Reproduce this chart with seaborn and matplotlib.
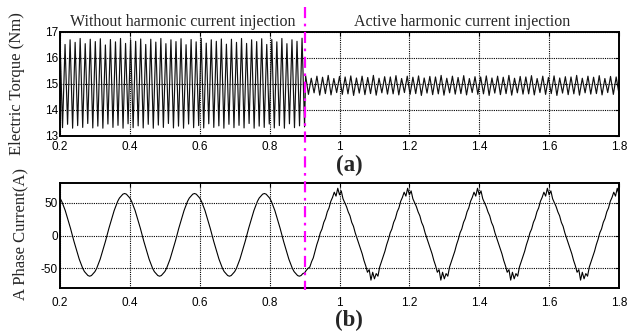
import numpy as np
import matplotlib
matplotlib.use("Agg")
import matplotlib.pyplot as plt
import seaborn as sns
from matplotlib.lines import Line2D

sns.set_theme(style="white")
plt.rcParams['font.family'] = ['Liberation Sans', 'DejaVu Sans']

# ---------------- data ----------------
x_ticks = [0.2, 0.4, 0.6, 0.8, 1.0, 1.2, 1.4, 1.6, 1.8]
x_tick_labels = ['0.2', '0.4', '0.6', '0.8', '1', '1.2', '1.4', '1.6', '1.8']
torque_ticks = [13, 14, 15, 16, 17]
current_ticks = [-50, 0, 50]
switch_time = 0.9
t_start, t_end = 0.2, 1.8

# electric torque: peaks / troughs of each ripple cycle
torque_left_peaks = [
    16.74, 16.52, 16.70, 16.60, 16.75, 16.55, 16.72, 16.63, 16.74, 16.50,
    16.71, 16.62, 16.75, 16.56, 16.70, 16.64, 16.73, 16.52, 16.72, 16.61,
    16.75, 16.55, 16.70, 16.63, 16.74, 16.51, 16.71, 16.62, 16.75, 16.57,
    16.70, 16.64, 16.73, 16.53, 16.72, 16.60, 16.75, 16.56, 16.70, 16.63,
    16.74, 16.52, 16.71, 16.62, 16.75, 16.55, 16.70, 16.64, 16.76]
torque_left_troughs = [
    13.32, 13.45, 13.30, 13.40, 13.33, 13.48, 13.31, 13.38, 13.30, 13.46,
    13.33, 13.41, 13.30, 13.47, 13.32, 13.39, 13.31, 13.45, 13.30, 13.42,
    13.33, 13.48, 13.31, 13.38, 13.30, 13.46, 13.32, 13.40, 13.31, 13.47,
    13.33, 13.39, 13.30, 13.45, 13.32, 13.41, 13.31, 13.48, 13.30, 13.38,
    13.33, 13.46, 13.31, 13.40, 13.30, 13.47, 13.32, 13.39, 13.35]
torque_right_peaks = [
    15.32, 15.22, 15.30, 15.26, 15.33, 15.21, 15.29, 15.27, 15.31, 15.23,
    15.30, 15.25, 15.33, 15.22, 15.28, 15.27, 15.32, 15.21, 15.30, 15.26,
    15.31, 15.23, 15.29, 15.27, 15.33, 15.22, 15.30, 15.25, 15.32, 15.21,
    15.28, 15.27, 15.31, 15.23, 15.30, 15.26, 15.33, 15.22, 15.29, 15.27,
    15.32, 15.21, 15.30, 15.25, 15.31, 15.23, 15.28, 15.27, 15.33, 15.22,
    15.30, 15.26, 15.32, 15.21, 15.29, 15.27]
torque_right_troughs = [
    14.60, 14.66, 14.57, 14.63, 14.58, 14.67, 14.60, 14.62, 14.56, 14.65,
    14.59, 14.63, 14.57, 14.66, 14.61, 14.62, 14.58, 14.67, 14.60, 14.63,
    14.56, 14.65, 14.59, 14.62, 14.57, 14.66, 14.61, 14.63, 14.58, 14.67,
    14.60, 14.62, 14.56, 14.65, 14.59, 14.63, 14.57, 14.66, 14.61, 14.62,
    14.58, 14.67, 14.60, 14.63, 14.56, 14.65, 14.59, 14.62, 14.57, 14.66,
    14.61, 14.63, 14.58, 14.67, 14.60, 14.62]

# phase A current, sampled every 5 ms
current_left = [
    57, 52, 45, 38, 29, 20, 11, 1, -9, -18, -27, -36, -43, -50, -55, -58, -61, -62, -61, -58,
    -55, -50, -43, -36, -27, -18, -9, 1, 11, 20, 29, 38, 45, 52, 57, 60, 63, 64, 63, 60,
    57, 52, 45, 38, 29, 20, 11, 1, -9, -18, -27, -36, -43, -50, -55, -58, -61, -62, -61, -58,
    -55, -50, -43, -36, -27, -18, -9, 1, 11, 20, 29, 38, 45, 52, 57, 60, 63, 64, 63, 60,
    57, 52, 45, 38, 29, 20, 11, 1, -9, -18, -27, -36, -43, -50, -55, -58, -61, -62, -61, -58,
    -55, -50, -43, -36, -27, -18, -9, 1, 11, 20, 29, 38, 45, 52, 57, 60, 63, 64, 63, 60,
    57, 52, 45, 38, 29, 20, 11, 1, -9, -18, -27, -36, -43, -50, -55, -58, -61, -62, -61, -58]
current_right = [
    -57, -53, -50, -48, -40, -34, -24, -14, -6, 4,
    10, 20, 26, 36, 42, 52, 58, 66, 60, 72,
    62, 68, 56, 50, 44, 36, 30, 20, 14, 4,
    -4, -12, -20, -28, -38, -46, -56, -52, -68, -56,
    -66, -58, -62, -48, -40, -32, -24, -14, -6, 4,
    10, 20, 26, 36, 42, 52, 58, 66, 60, 72,
    62, 68, 56, 50, 44, 36, 30, 20, 14, 4,
    -4, -12, -20, -28, -38, -46, -56, -52, -68, -56,
    -66, -58, -62, -48, -40, -32, -24, -14, -6, 4,
    10, 20, 26, 36, 42, 52, 58, 66, 60, 72,
    62, 68, 56, 50, 44, 36, 30, 20, 14, 4,
    -4, -12, -20, -28, -38, -46, -56, -52, -68, -56,
    -66, -58, -62, -48, -40, -32, -24, -14, -6, 4,
    10, 20, 26, 36, 42, 52, 58, 66, 60, 72,
    62, 68, 56, 50, 44, 36, 30, 20, 14, 4,
    -4, -12, -20, -28, -38, -46, -56, -52, -68, -56,
    -66, -58, -62, -48, -40, -32, -24, -14, -6, 4,
    10, 20, 26, 36, 42, 52, 58, 66, 60, 72, 62]

titles = ['Without harmonic current injection', 'Active harmonic current injection']

# ---------------- build series ----------------
torque_left = [v for p in zip(torque_left_peaks, torque_left_troughs) for v in p]
torque_right = [v for p in zip(torque_right_peaks, torque_right_troughs) for v in p]
t_tl = np.linspace(t_start, switch_time, len(torque_left))
t_tr = np.linspace(switch_time + 0.003, t_end, len(torque_right))
torque_t = np.concatenate([t_tl, t_tr])
torque_v = np.array(torque_left + torque_right)

t_cl = np.linspace(t_start, switch_time - 0.005, len(current_left))
t_cr = np.linspace(switch_time, t_end, len(current_right))
current_t = np.concatenate([t_cl, t_cr])
current_v = np.array(current_left + current_right, dtype=float)

# ---------------- figure ----------------
fig = plt.figure(figsize=(6.29, 3.32), dpi=100)
fig.patch.set_facecolor('white')
ax1 = fig.add_axes([0.0954, 0.5904, 0.8887, 0.3133])
ax2 = fig.add_axes([0.0954, 0.1325, 0.8887, 0.3163])

sns.lineplot(x=torque_t, y=torque_v, ax=ax1, color='#111111', lw=0.85,
             estimator=None, sort=False)
sns.lineplot(x=current_t, y=current_v, ax=ax2, color='black', lw=0.8,
             estimator=None, sort=False)

for ax, yt, ylim, xpad in [(ax1, torque_ticks, (13, 17), 3.6),
                           (ax2, current_ticks, (-80, 80), 6.5)]:
    ax.set_facecolor('white')
    ax.set_xlim(t_start, t_end)
    ax.set_ylim(*ylim)
    ax.set_xticks(x_ticks)
    ax.set_xticklabels(x_tick_labels)
    ax.set_yticks(yt)
    ax.set_yticklabels([str(v) for v in yt])
    ax.grid(True, linestyle=(0, (1.0, 1.0)), color='black', lw=0.8)
    for s in ax.spines.values():
        s.set_visible(True)
        s.set_color('black')
        s.set_linewidth(1.4)
    ax.tick_params(axis='both', direction='in', length=3, width=0.8,
                   top=True, right=True, labelsize=8.5, colors='black')
    ax.tick_params(axis='x', pad=xpad)
    ax.tick_params(axis='y', pad=1.5)
    ax.set_xlabel('')
    ax.set_ylabel('')

serif = ['Liberation Serif', 'DejaVu Serif']
ax1.text((t_start + switch_time) / 2, 17.08, titles[0], ha='center', va='bottom',
         family=serif, fontsize=11.5)
ax1.text((switch_time + t_end) / 2, 17.08, titles[1], ha='center', va='bottom',
         family=serif, fontsize=11.5)

fig.text(17 / 629, 1 - 84 / 332, 'Electric Torque (Nm)', rotation=90,
         ha='center', va='center', family=serif, fontsize=12)
fig.text(20 / 629, 1 - 234 / 332, 'A Phase Current(A)', rotation=90,
         ha='center', va='center', family=serif, fontsize=12)
fig.text(349 / 629, 1 - 165 / 332, '(a)', ha='center', va='center',
         family=serif, fontsize=16.5, fontweight='bold')
fig.text(349 / 629, 1 - 320 / 332, '(b)', ha='center', va='center',
         family=serif, fontsize=16.5, fontweight='bold')

# switching instant (dash-dot magenta line across both panels)
disp = ax1.transData.transform((switch_time, 15))
xf = fig.transFigure.inverted().transform(disp)[0]
fig.add_artist(Line2D([xf, xf], [1 - 7 / 332, 1 - 290 / 332],
                      transform=fig.transFigure, color='#ff00ff', lw=1.6,
                      linestyle=(0, (5, 2.5, 1.2, 2.5)), zorder=10))

fig.savefig('out.png', dpi=100, facecolor='white')
